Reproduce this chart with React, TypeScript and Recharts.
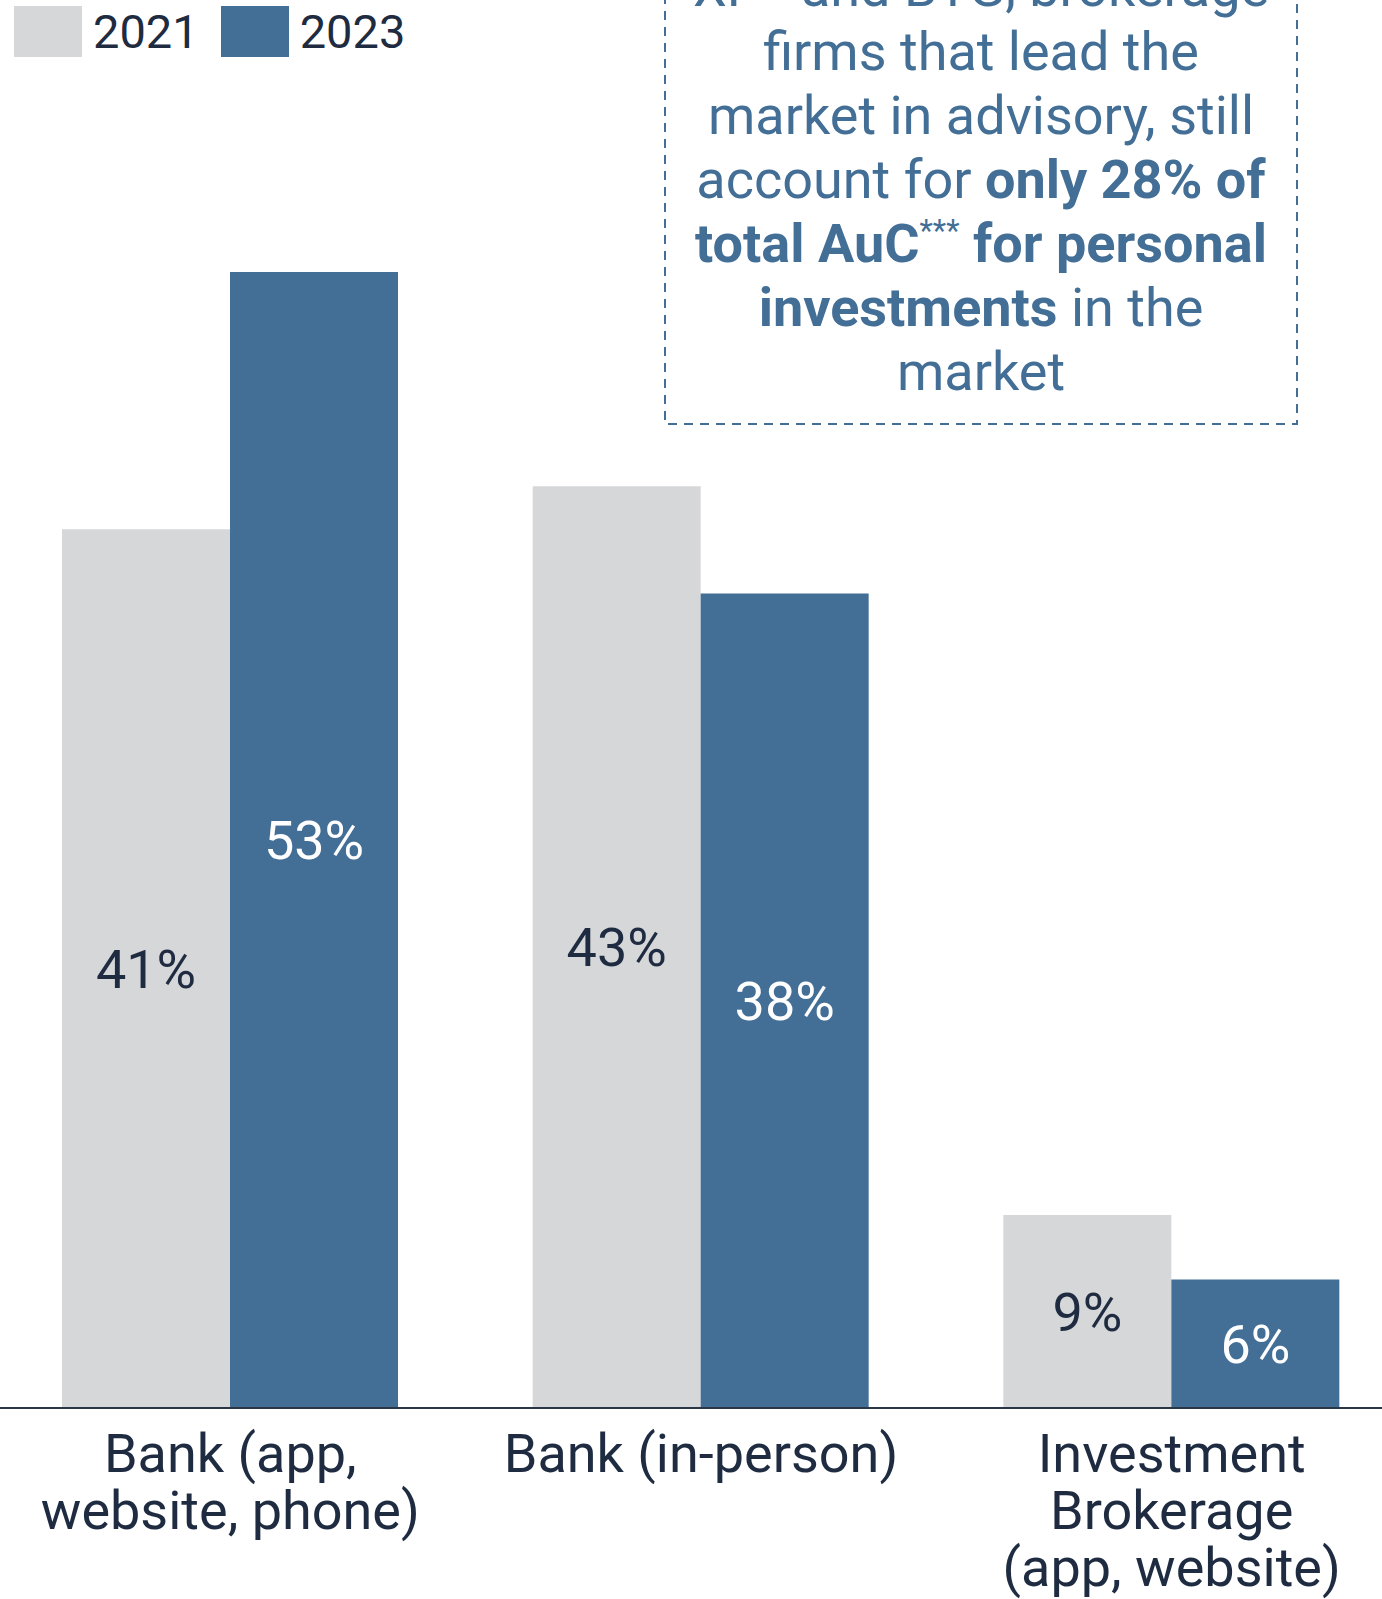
import React from 'react';
import { BarChart, Bar, XAxis, YAxis, LabelList } from 'recharts';

const categories = ['Bank (app,\nwebsite, phone)', 'Bank (in-person)', 'Investment\nBrokerage\n(app, website)'];
const values2021 = [41, 43, 9];
const values2023 = [53, 38, 6];
const seriesNames = ['2021', '2023'];
const seriesColors = ['#d6d7d9', '#436f97'];
const labelColors = ['#1e2b40', '#ffffff'];

type Seg = { t: string; b?: boolean; sup?: boolean };
const annotationLines: Seg[][] = [
  [{ t: 'XP' }, { t: '**', sup: true }, { t: ' and BTG, brokerage' }],
  [{ t: 'firms that lead the' }],
  [{ t: 'market in advisory, still' }],
  [{ t: 'account for ' }, { t: 'only 28% of', b: true }],
  [{ t: 'total AuC', b: true }, { t: '***', sup: true }, { t: ' for personal', b: true }],
  [{ t: 'investments', b: true }, { t: ' in the' }],
  [{ t: 'market' }],
];

const data = categories.map((name, i) => ({ name, v2021: values2021[i], v2023: values2023[i] }));

const FONT = 'Roboto, "Noto Sans", sans-serif';
const DARK = '#1e2b40';
const BLUE = '#436f97';

const Tick = (props: any) => {
  const { x, y, payload } = props;
  const lines = String(payload.value).split('\n');
  return (
    <text x={x} y={y} textAnchor="middle" fill={DARK} fontSize={54} fontFamily={FONT}>
      {lines.map((l, i) => (
        <tspan key={i} x={x} dy={i === 0 ? 64 : 57}>{l}</tspan>
      ))}
    </text>
  );
};

export default function App() {
  return (
    <div style={{ position: 'absolute', left: 0, top: 0, width: 1382, height: 1599, overflow: 'hidden', background: '#fff', fontFamily: FONT }}>
      <div style={{ position: 'absolute', left: -5, top: 0 }}>
        <BarChart
          width={1412}
          height={1599}
          data={data}
          margin={{ top: 122, right: 0, bottom: 0, left: 0 }}
          barGap={0}
          barSize={168}
        >
          <YAxis hide domain={[0, 60]} />
          <XAxis
            dataKey="name"
            height={191}
            interval={0}
            tickLine={false}
            tickSize={0}
            tickMargin={0}
            axisLine={{ stroke: '#2a3548', strokeWidth: 2 }}
            tick={<Tick />}
          />
          <Bar dataKey="v2021" name={seriesNames[0]} fill={seriesColors[0]} isAnimationActive={false}>
            <LabelList dataKey="v2021" position="center" formatter={(v: any) => `${v}%`} fill={labelColors[0]} fontSize={54} fontFamily={FONT} />
          </Bar>
          <Bar dataKey="v2023" name={seriesNames[1]} fill={seriesColors[1]} isAnimationActive={false}>
            <LabelList dataKey="v2023" position="center" formatter={(v: any) => `${v}%`} fill={labelColors[1]} fontSize={54} fontFamily={FONT} />
          </Bar>
        </BarChart>
      </div>

      {/* Legend */}
      <div style={{ position: 'absolute', left: 14, top: 6, display: 'flex', alignItems: 'center' }}>
        {seriesNames.map((n, i) => (
          <div key={n} style={{ display: 'flex', alignItems: 'center', marginRight: i === 0 ? 22 : 0 }}>
            <div style={{ width: 68, height: 51, background: seriesColors[i] }} />
            <span style={{ fontSize: 47, color: DARK, marginLeft: 11, lineHeight: '51px' }}>{n}</span>
          </div>
        ))}
      </div>

      {/* Annotation box */}
      <svg style={{ position: 'absolute', left: 0, top: 0 }} width={1382} height={440}>
        <rect x={665} y={-100} width={632} height={524} fill="none" stroke={BLUE} strokeWidth={2} strokeDasharray="9 7" />
      </svg>
      <div
        style={{
          position: 'absolute',
          left: 665,
          width: 632,
          top: -44,
          textAlign: 'center',
          color: BLUE,
          fontSize: 54,
          lineHeight: '64px',
          whiteSpace: 'nowrap',
        }}
      >
        {annotationLines.map((line, i) => (
          <div key={i}>
            {line.map((s, j) =>
              s.sup ? (
                <span key={j} style={{ fontSize: 31, position: 'relative', top: -21, lineHeight: 0 }}>{s.t}</span>
              ) : (
                <span key={j} style={{ fontWeight: s.b ? 700 : 400 }}>{s.t}</span>
              )
            )}
          </div>
        ))}
      </div>
    </div>
  );
}
